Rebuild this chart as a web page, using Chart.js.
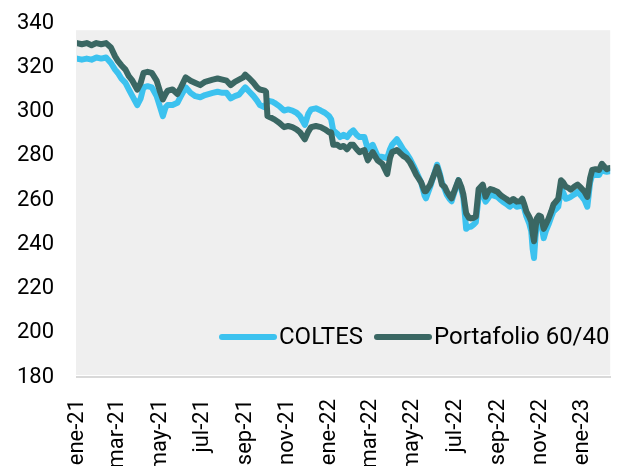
<!DOCTYPE html>
<html>
<head>
<meta charset="utf-8">
<script src="https://cdn.jsdelivr.net/npm/chart.js@4/dist/chart.umd.min.js"></script>
<style>
  html, body { margin: 0; padding: 0; background: #fff; overflow: hidden; height: 466px; }
  #myChart { display: block; margin-top: -13px; }
</style>
</head>
<body>
<canvas id="myChart" width="631" height="479"></canvas>
<script>
// days since 1 Jan 2021
const days = [0, 7, 14, 21, 28, 35, 42, 49, 55, 59, 64, 70, 75, 80, 87, 92, 96, 102, 108, 115,
  120, 124, 128, 131, 138, 145, 150, 157, 164, 171, 178, 185, 196, 203, 210, 216, 222, 228, 234, 240,
  243, 249, 255, 260, 264, 271, 273, 275, 282, 285, 292, 299, 305, 311, 317, 322, 329, 334, 338, 345,
  352, 358, 364, 367, 370, 376, 380, 385, 390, 395, 399, 404, 408, 415, 420, 427, 434, 441, 448, 452,
  455, 462, 466, 471, 476, 481, 486, 490, 494, 497, 502, 504, 510, 515, 520, 524, 527, 531, 534, 538,
  541, 546, 551, 555, 558, 562, 566, 569, 573, 576, 580, 586, 590, 594, 597, 602, 607, 611, 615, 620,
  625, 630, 635, 640, 643, 646, 649, 653, 656, 658, 660, 662, 664, 667, 670, 674, 677, 681, 685, 688,
  692, 695, 699, 702, 706, 710, 713, 718, 723, 728, 733, 737, 741, 744, 749, 754, 758, 762, 765, 769];

const coltes = [324, 323.5, 324, 323.5, 324.5, 324, 324.5, 322, 319, 317.5, 315, 313, 310, 307, 303, 306, 311, 311.5, 311, 307,
  302, 298, 302, 303, 303, 304, 307, 311, 308.5, 307, 306.5, 307.5, 308.5, 309, 308.5, 308.5, 306, 307, 307.7, 310,
  311, 309, 307, 305, 303, 302, 303, 305, 304.5, 304, 302.5, 300.5, 301, 300.5, 299.5, 298, 294, 299, 301, 301.5,
  300.5, 299.5, 298, 296.5, 291.5, 290, 288.5, 289.5, 288.5, 290.5, 291.5, 289.5, 288.5, 288.5, 283, 285, 280, 279.5, 279, 283,
  285, 287.5, 285.5, 283, 281, 278.5, 275.5, 272.8, 270, 268, 262, 260.8, 266, 271, 276, 272, 268, 265, 262.5, 260.5,
  259.5, 264.5, 269, 265, 261, 247, 248, 248, 249, 250, 261.5, 262.5, 259.3, 261, 262.5, 262, 261.5, 260.3, 259.3, 258.3,
  257, 258.4, 257, 257.3, 258.4, 256, 252.6, 249.5, 245.9, 238, 233.8, 243, 249, 250.5, 250, 242.8, 246, 249, 252.5, 254.8,
  256, 257, 265, 263.5, 260.6, 261, 261.5, 262.5, 263.8, 262, 260, 257, 268, 271.4, 271.5, 271.4, 274, 273, 272.8, 273];

const portafolio = [331, 330.5, 331, 330, 331, 330.5, 331, 329, 325, 323, 321, 319, 316, 314, 310, 313, 317.5, 318, 317.5, 314,
  309, 305.5, 308, 309.5, 310, 308, 311, 315.5, 314, 313, 312, 313.5, 314.5, 315, 314.5, 314, 312, 313.5, 314.5, 315.5,
  316.7, 315, 313, 311, 310, 309.5, 309, 298, 297, 296.5, 295, 293, 293.5, 293, 292, 290.7, 287.5, 291, 293, 293.5,
  293, 292, 290.7, 290.7, 285, 285, 284, 284.5, 283, 285, 285, 283, 281.7, 282.6, 278, 281.7, 278, 276.4, 271.8, 279,
  281.7, 282.6, 281.5, 280, 279, 277, 274, 271.4, 269.5, 268, 264, 264, 267, 271, 275, 271, 267, 266, 264, 262,
  260.8, 265, 269, 266, 262.5, 254, 252, 251.7, 252, 252.6, 265, 267, 261.5, 264, 265, 264.5, 263.8, 262.5, 261.5, 260.5,
  259.3, 260.5, 259.3, 259.5, 260.6, 258, 254.8, 252.5, 250.3, 245, 241.4, 247, 251.7, 253, 252.6, 247, 249, 251.7, 255, 258,
  259.5, 260.6, 269, 268, 266, 265.5, 264.7, 266, 267, 265.5, 263.8, 261.5, 270, 273.6, 274, 273.6, 276.4, 275, 274, 274.5];

// x ticks: first day of every second month
const tickDays = [0, 59, 120, 181, 243, 304, 365, 424, 485, 546, 608, 669, 730];
const tickLabels = ['ene-21', 'mar-21', 'may-21', 'jul-21', 'sep-21', 'nov-21', 'ene-22', 'mar-22',
  'may-22', 'jul-22', 'sep-22', 'nov-22', 'ene-23'];

const colorColtes = '#3cc2ef';
const colorPort = '#3a6763';
const fontFamily = 'Roboto, "Liberation Sans", sans-serif';

const plotBg = {
  id: 'plotBg',
  beforeDraw(chart) {
    const { ctx, chartArea } = chart;
    ctx.save();
    ctx.fillStyle = '#efefef';
    ctx.fillRect(chartArea.left - 1, chartArea.top + 7, chartArea.right - chartArea.left + 1, chartArea.bottom - chartArea.top - 9);
    ctx.restore();
  }
};

const innerLegend = {
  id: 'innerLegend',
  afterDraw(chart) {
    const { ctx, chartArea } = chart;
    const items = [
      { label: chart.data.datasets[0].label, color: chart.data.datasets[0].borderColor, x: 222 },
      { label: chart.data.datasets[1].label, color: chart.data.datasets[1].borderColor, x: 377 }
    ];
    const y = chartArea.bottom - 40;
    ctx.save();
    ctx.font = '24px ' + fontFamily;
    ctx.textBaseline = 'middle';
    ctx.lineCap = 'round';
    ctx.lineWidth = 6;
    items.forEach(it => {
      ctx.strokeStyle = it.color;
      ctx.beginPath();
      ctx.moveTo(it.x, y);
      ctx.lineTo(it.x + 52, y);
      ctx.stroke();
      ctx.fillStyle = '#000';
      ctx.fillText(it.label, it.x + 57, y + 1);
    });
    ctx.restore();
  }
};

const ctx = document.getElementById('myChart');
new Chart(ctx, {
  type: 'line',
  data: {
    datasets: [
      {
        label: 'COLTES',
        data: days.map((d, i) => ({ x: d, y: coltes[i] })),
        borderColor: colorColtes,
        borderWidth: 6,
        order: 1
      },
      {
        label: 'Portafolio 60/40',
        data: days.map((d, i) => ({ x: d, y: portafolio[i] })),
        borderColor: colorPort,
        borderWidth: 6,
        order: 0
      }
    ]
  },
  options: {
    responsive: false,
    animation: false,
    layout: { padding: { top: 7, right: 2, left: 0, bottom: 0 } },
    elements: {
      point: { radius: 0 },
      line: { tension: 0, borderJoinStyle: 'round', borderCapStyle: 'round', fill: false }
    },
    plugins: {
      legend: { display: false },
      tooltip: { enabled: false }
    },
    scales: {
      x: {
        type: 'linear',
        min: 0,
        max: 770,
        grid: { display: false, drawTicks: false },
        border: { display: true, color: '#d9d9d9', width: 2 },
        afterBuildTicks(scale) {
          scale.ticks = tickDays.map(v => ({ value: v }));
        },
        afterFit(scale) { scale.height = 89; },
        ticks: {
          autoSkip: false,
          minRotation: 90,
          maxRotation: 90,
          padding: 22,
          color: '#000',
          font: { family: fontFamily, size: 22 },
          callback: (v, i) => tickLabels[i]
        }
      },
      y: {
        min: 180,
        max: 340,
        grid: { display: false, drawTicks: false },
        border: { display: false },
        afterFit(scale) { scale.width = 77; },
        ticks: {
          stepSize: 20,
          padding: 23,
          color: '#000',
          font: { family: fontFamily, size: 22 }
        }
      }
    }
  },
  plugins: [plotBg, innerLegend]
});
</script>
</body>
</html>
